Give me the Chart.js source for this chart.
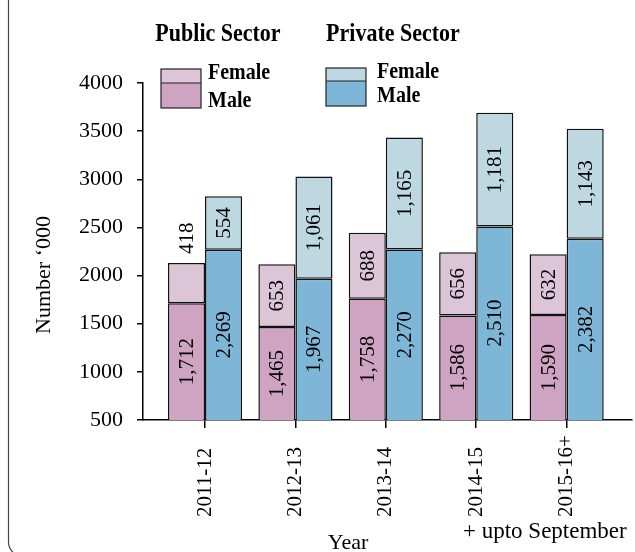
<!DOCTYPE html>
<html>
<head>
<meta charset="utf-8">
<script src="https://cdn.jsdelivr.net/npm/chart.js@4.4.1/dist/chart.umd.min.js"></script>
<style>
    html, body { margin: 0; padding: 0; background: #fff; overflow: hidden; }
    #wrap { position: relative; width: 635px; height: 552px; }
</style>
</head>
<body>
<div id="wrap"><canvas id="chart"></canvas></div>
<script>
// Employment by sector and sex, thousands
const years = ['2011-12', '2012-13', '2013-14', '2014-15', '2015-16+'];
const publicMale = [1712, 1465, 1758, 1586, 1590];
const publicFemale = [418, 653, 688, 656, 632];
const privateMale = [2269, 1967, 2270, 2510, 2382];
const privateFemale = [554, 1061, 1165, 1181, 1143];
const yTicks = [500, 1000, 1500, 2000, 2500, 3000, 3500, 4000];

const SERIF = "'Liberation Serif', 'Times New Roman', serif";

const colors = {
    publicMale: '#cfa4c2',
    publicFemale: '#dbc5d7',
    privateMale: '#7db6d6',
    privateFemale: '#bed8e2'
};

// bar charts on a linear x axis need {x, y} points
function points(values) {
    return values.map((v, i) => ({ x: i, y: v }));
}

function fmt(n) {
    return n.toLocaleString('en-US');
}

// text drawn a little taller than wide, like the heading style
function tallText(ctx, text, x, y, stretch) {
    ctx.save();
    ctx.translate(x, y);
    ctx.scale(1, stretch);
    ctx.fillText(text, 0, 0);
    ctx.restore();
}

// Value labels, written sideways in each segment (or above it when it is too short)
const segmentLabels = {
    id: 'segmentLabels',
    afterDatasetsDraw(chart) {
        const ctx = chart.ctx;
        const area = chart.chartArea;
        ctx.save();
        ctx.fillStyle = '#000';
        ctx.font = '21px ' + SERIF;
        chart.data.datasets.forEach((ds, di) => {
            const meta = chart.getDatasetMeta(di);
            meta.data.forEach((bar, i) => {
                const top = bar.y;
                const bottom = Math.min(bar.base, area.bottom);
                const text = fmt(ds.data[i].y);
                ctx.save();
                if (bottom - top < 45) {
                    ctx.translate(bar.x, top - 9);
                    ctx.rotate(-Math.PI / 2);
                    ctx.textAlign = 'left';
                } else {
                    ctx.translate(bar.x, (top + bottom) / 2);
                    ctx.rotate(-Math.PI / 2);
                    ctx.textAlign = 'center';
                }
                ctx.textBaseline = 'middle';
                ctx.fillText(text, 0, 1);
                ctx.restore();
            });
        });
        ctx.restore();
    }
};

// Year labels under the axis, all starting from the same line and reading upwards
const yearLabels = {
    id: 'yearLabels',
    afterDraw(chart) {
        const ctx = chart.ctx;
        const x = chart.scales.x;
        ctx.save();
        ctx.fillStyle = '#000';
        ctx.font = '21px ' + SERIF;
        ctx.textAlign = 'left';
        ctx.textBaseline = 'middle';
        x.ticks.forEach((t, i) => {
            ctx.save();
            ctx.translate(x.getPixelForTick(i), 517);
            ctx.rotate(-Math.PI / 2);
            ctx.fillText(years[t.value], 0, 0);
            ctx.restore();
        });
        ctx.restore();
    }
};

// Frame, sector legends and axis titles
const decorations = {
    id: 'decorations',
    beforeDraw(chart) {
        const ctx = chart.ctx;
        ctx.save();
        ctx.strokeStyle = '#444';
        ctx.lineWidth = 1.2;
        ctx.beginPath();
        ctx.roundRect(8.5, -30, 800, 586, 14);
        ctx.stroke();
        ctx.restore();
    },
    afterDraw(chart) {
        const ctx = chart.ctx;
        const ds = chart.data.datasets;
        ctx.save();
        ctx.fillStyle = '#000';

        // sector headings
        ctx.font = 'bold 22px ' + SERIF;
        ctx.textAlign = 'center';
        ctx.textBaseline = 'alphabetic';
        tallText(ctx, 'Public Sector', 218, 41, 1.18);
        tallText(ctx, 'Private Sector', 393, 41, 1.18);

        // swatches
        const groups = [
            { x: 161, top: 69, mid: 83, bottom: 108, female: ds[1], male: ds[0], fy: 79, my: 107, tx: 208 },
            { x: 326, top: 68, mid: 81, bottom: 106, female: ds[3], male: ds[2], fy: 78, my: 102, tx: 377 }
        ];
        ctx.font = 'bold 20px ' + SERIF;
        ctx.textAlign = 'left';
        groups.forEach(g => {
            const w = 40;
            ctx.fillStyle = g.female.backgroundColor;
            ctx.fillRect(g.x, g.top, w, g.mid - g.top);
            ctx.fillStyle = g.male.backgroundColor;
            ctx.fillRect(g.x, g.mid, w, g.bottom - g.mid);
            ctx.strokeStyle = '#222';
            ctx.lineWidth = 1.2;
            ctx.strokeRect(g.x, g.top, w, g.bottom - g.top);
            ctx.beginPath();
            ctx.moveTo(g.x, g.mid);
            ctx.lineTo(g.x + w, g.mid);
            ctx.stroke();
            ctx.fillStyle = '#000';
            tallText(ctx, g.female.label.split(' ').pop(), g.tx, g.fy, 1.15);
            tallText(ctx, g.male.label.split(' ').pop(), g.tx, g.my, 1.15);
        });

        // axis titles and footnote
        ctx.font = '22px ' + SERIF;
        ctx.textAlign = 'center';
        ctx.textBaseline = 'middle';
        ctx.save();
        ctx.translate(44, 275);
        ctx.rotate(-Math.PI / 2);
        ctx.fillText('Number \u2018000', 0, 0);
        ctx.restore();
        ctx.fillText('Year', 348, 543);
        ctx.font = '23px ' + SERIF;
        ctx.textAlign = 'left';
        ctx.fillText('+ upto September', 463, 532);
        ctx.restore();
    }
};

function barSet(label, values, color, stack) {
    return {
        label: label,
        data: points(values),
        stack: stack,
        backgroundColor: color,
        borderColor: '#111',
        borderWidth: 1.5,
        borderSkipped: false,
        categoryPercentage: 0.82,
        barPercentage: 1
    };
}

new Chart(document.getElementById('chart'), {
    type: 'bar',
    data: {
        datasets: [
            barSet('Public Male', publicMale, colors.publicMale, 'public'),
            barSet('Public Female', publicFemale, colors.publicFemale, 'public'),
            barSet('Private Male', privateMale, colors.privateMale, 'private'),
            barSet('Private Female', privateFemale, colors.privateFemale, 'private')
        ]
    },
    options: {
        responsive: true,
        maintainAspectRatio: false,
        animation: false,
        layout: { padding: { top: 83, left: 0, right: 3, bottom: 0 } },
        plugins: {
            legend: { display: false },
            tooltip: { enabled: false }
        },
        scales: {
            x: {
                type: 'linear',
                stacked: true,
                offset: false,
                min: -0.686,
                max: 4.723,
                afterBuildTicks(scale) {
                    scale.ticks = years.map((y, i) => ({ value: i }));
                },
                afterFit(scale) {
                    scale.height = 132;
                },
                grid: {
                    offset: false,
                    drawOnChartArea: false,
                    drawTicks: true,
                    tickLength: 8,
                    color: '#000',
                    lineWidth: 1.5
                },
                border: { display: true, color: '#000', width: 1.5 },
                ticks: { display: false, autoSkip: false }
            },
            y: {
                stacked: true,
                min: yTicks[0],
                max: yTicks[yTicks.length - 1],
                afterBuildTicks(scale) {
                    scale.ticks = yTicks.map(v => ({ value: v }));
                },
                afterFit(scale) {
                    scale.width = 143;
                },
                grid: {
                    drawOnChartArea: false,
                    drawTicks: true,
                    tickLength: 6,
                    color: '#000',
                    lineWidth: 1.5
                },
                border: { display: true, color: '#000', width: 1.5 },
                ticks: {
                    padding: 14,
                    color: '#000',
                    font: { family: SERIF, size: 22 },
                    callback: (v) => String(v)
                }
            }
        }
    },
    plugins: [segmentLabels, yearLabels, decorations]
});
</script>
</body>
</html>
